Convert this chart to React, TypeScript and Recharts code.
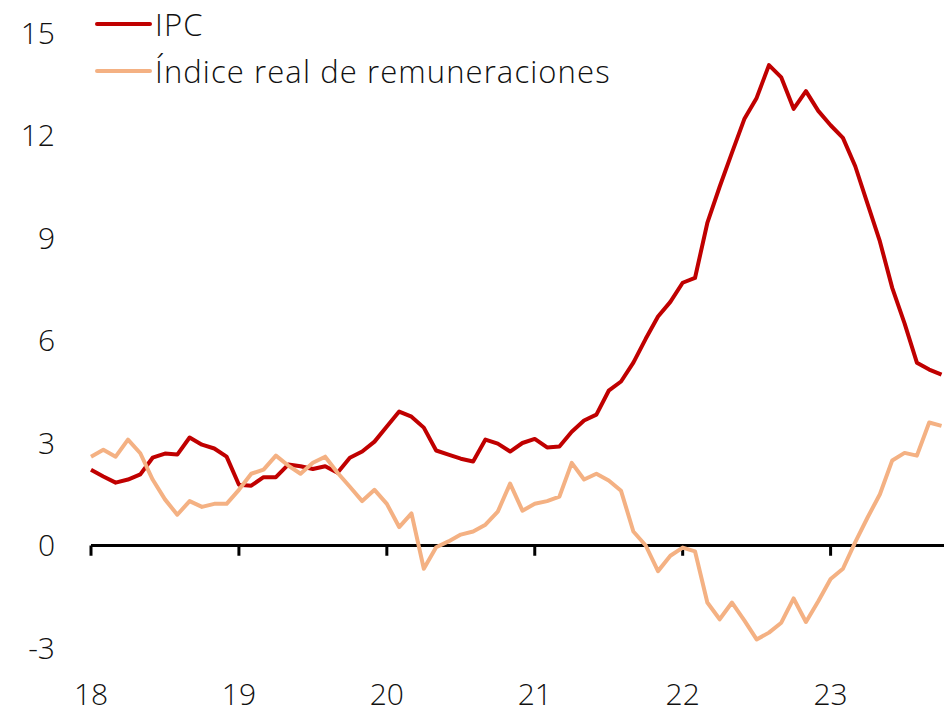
import React from 'react';
import { LineChart, Line, XAxis, YAxis, ReferenceLine } from 'recharts';

// monthly, Jan 2018 .. Oct 2023
const yearLabels = ['18', '19', '20', '21', '22', '23'];
const seriesNames = ['IPC', 'Índice real de remuneraciones'];
const yTicks = [-3, 0, 3, 6, 9, 12, 15];

const ipc = [
  2.22, 2.02, 1.84, 1.93, 2.08, 2.57, 2.69, 2.66, 3.16, 2.95, 2.84, 2.6,
  1.78, 1.75, 2.0, 2.0, 2.37, 2.32, 2.24, 2.32, 2.13, 2.57, 2.75, 3.04,
  3.48, 3.92, 3.77, 3.45, 2.78, 2.66, 2.54, 2.46, 3.1, 2.98, 2.75, 3.0,
  3.12, 2.87, 2.9, 3.33, 3.66, 3.83, 4.53, 4.8, 5.35, 6.05, 6.7, 7.13,
  7.69, 7.83, 9.44, 10.5, 11.5, 12.48, 13.1, 14.06, 13.7, 12.78, 13.3, 12.72,
  12.3, 11.93, 11.1, 10.0, 8.9, 7.54, 6.5, 5.35, 5.15, 5.0,
];

const remuneraciones = [
  2.6, 2.8, 2.6, 3.1, 2.7, 1.93, 1.35, 0.9, 1.3, 1.13, 1.22, 1.22,
  1.63, 2.1, 2.22, 2.63, 2.34, 2.1, 2.42, 2.6, 2.13, 1.72, 1.3, 1.63,
  1.22, 0.54, 0.94, -0.68, -0.05, 0.12, 0.32, 0.41, 0.61, 0.99, 1.81, 1.02,
  1.22, 1.3, 1.43, 2.42, 1.93, 2.1, 1.9, 1.6, 0.41, 0.0, -0.75, -0.3,
  -0.06, -0.17, -1.67, -2.16, -1.67, -2.19, -2.75, -2.55, -2.26, -1.55, -2.24, -1.63,
  -0.98, -0.68, 0.1, 0.82, 1.5, 2.49, 2.71, 2.63, 3.6, 3.5,
];

const colors = ['#C00000', '#F4B183'];
const font = '"Open Sans", Lato, sans-serif';

const data = ipc.map((v, i) => ({ m: i, ipc: v, rem: remuneraciones[i] }));
const yearTicks = yearLabels.map((_, i) => i * 12);

const tickStyle = { fontSize: 30, fill: '#111', fontFamily: font, fontWeight: 300 };

export default function App() {
  return (
    <div style={{ position: 'absolute', left: 0, top: 0, width: 944, height: 711, background: '#fff' }}>
      <LineChart width={944} height={711} data={data} margin={{ top: 33, right: 0, bottom: 0, left: 0 }}>
        <XAxis
          type="number"
          dataKey="m"
          domain={[0, 69.2]}
          ticks={yearTicks}
          interval={0}
          tickFormatter={(v: number) => yearLabels[Math.round(v / 12)]}
          axisLine={false}
          tickLine={false}
          tickSize={0}
          tickMargin={36}
          height={63}
          tick={tickStyle}
        />
        <YAxis
          domain={[-3, 15]}
          ticks={yTicks}
          interval={0}
          width={91}
          axisLine={false}
          tickLine={false}
          tickSize={0}
          tickMargin={36}
          tick={tickStyle}
        />
        <ReferenceLine y={0} stroke="#000" strokeWidth={3} />
        {yearTicks.map((x) => (
          <ReferenceLine key={x} segment={[{ x, y: 0 }, { x, y: -0.3 }]} stroke="#000" strokeWidth={3} />
        ))}
        <Line type="linear" dataKey="ipc" name={seriesNames[0]} stroke={colors[0]} strokeWidth={4} dot={false} strokeLinejoin="round" isAnimationActive={false} />
        <Line type="linear" dataKey="rem" name={seriesNames[1]} stroke={colors[1]} strokeWidth={4} dot={false} strokeLinejoin="round" isAnimationActive={false} />
      </LineChart>
      {seriesNames.map((name, i) => (
        <div
          key={name}
          style={{
            position: 'absolute',
            left: 95,
            top: 4 + i * 47,
            height: 40,
            display: 'flex',
            alignItems: 'center',
            fontFamily: font,
            fontWeight: 300,
            fontSize: 31,
            letterSpacing: 1.1,
            lineHeight: '40px',
            color: '#111',
            whiteSpace: 'nowrap',
          }}
        >
          <svg width={58} height={10} style={{ marginRight: 2 }}>
            <line x1={2} y1={5} x2={55} y2={5} stroke={colors[i]} strokeWidth={4} strokeLinecap="round" />
          </svg>
          {name}
        </div>
      ))}
    </div>
  );
}
